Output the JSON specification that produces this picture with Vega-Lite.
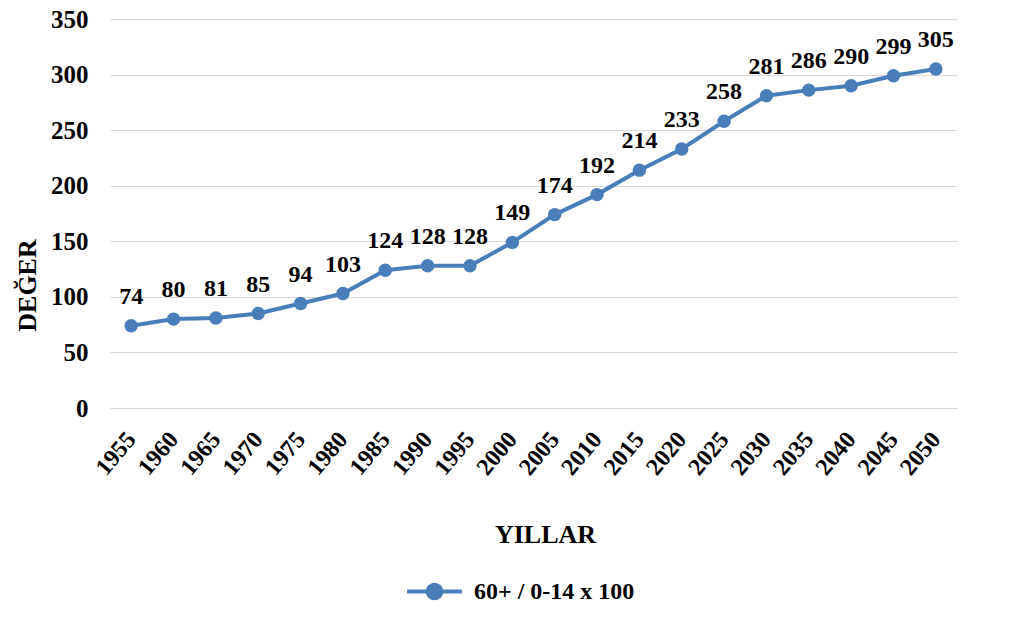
{
  "$schema": "https://vega.github.io/schema/vega-lite/v6.json",
  "width": 847,
  "height": 389,
  "autosize": {"type": "none"},
  "padding": {"left": 110, "top": 19, "right": 59, "bottom": 224},
  "background": "white",
  "config": {
    "view": {"stroke": null},
    "font": "Liberation Serif"
  },
  "data": {
    "values": [
      {"year": "1955", "value": 74, "series": "60+ / 0-14 x 100"},
      {"year": "1960", "value": 80, "series": "60+ / 0-14 x 100"},
      {"year": "1965", "value": 81, "series": "60+ / 0-14 x 100"},
      {"year": "1970", "value": 85, "series": "60+ / 0-14 x 100"},
      {"year": "1975", "value": 94, "series": "60+ / 0-14 x 100"},
      {"year": "1980", "value": 103, "series": "60+ / 0-14 x 100"},
      {"year": "1985", "value": 124, "series": "60+ / 0-14 x 100"},
      {"year": "1990", "value": 128, "series": "60+ / 0-14 x 100"},
      {"year": "1995", "value": 128, "series": "60+ / 0-14 x 100"},
      {"year": "2000", "value": 149, "series": "60+ / 0-14 x 100"},
      {"year": "2005", "value": 174, "series": "60+ / 0-14 x 100"},
      {"year": "2010", "value": 192, "series": "60+ / 0-14 x 100"},
      {"year": "2015", "value": 214, "series": "60+ / 0-14 x 100"},
      {"year": "2020", "value": 233, "series": "60+ / 0-14 x 100"},
      {"year": "2025", "value": 258, "series": "60+ / 0-14 x 100"},
      {"year": "2030", "value": 281, "series": "60+ / 0-14 x 100"},
      {"year": "2035", "value": 286, "series": "60+ / 0-14 x 100"},
      {"year": "2040", "value": 290, "series": "60+ / 0-14 x 100"},
      {"year": "2045", "value": 299, "series": "60+ / 0-14 x 100"},
      {"year": "2050", "value": 305, "series": "60+ / 0-14 x 100"}
    ]
  },
  "encoding": {
    "x": {
      "field": "year",
      "type": "ordinal",
      "scale": {"type": "point", "padding": 0.5},
      "axis": {
        "title": "YILLAR",
        "titleFont": "Liberation Serif",
        "titleFontSize": 26,
        "titleFontWeight": "bold",
        "titleColor": "black",
        "titleX": 435,
        "titleY": 126,
        "titleAlign": "center",
        "titleBaseline": "middle",
        "labelAngle": -50,
        "labelAlign": "right",
        "labelBaseline": "middle",
        "labelFont": "Liberation Serif",
        "labelFontSize": 24,
        "labelFontWeight": "bold",
        "labelColor": "black",
        "labelPadding": 27,
        "ticks": false,
        "domain": false,
        "grid": false
      }
    },
    "y": {
      "field": "value",
      "type": "quantitative",
      "scale": {"domain": [0, 350], "nice": false},
      "axis": {
        "title": "DEĞER",
        "titleFont": "Liberation Serif",
        "titleFontSize": 26,
        "titleFontWeight": "bold",
        "titleColor": "black",
        "titleX": -83,
        "titleY": 266,
        "titleAlign": "center",
        "titleBaseline": "middle",
        "values": [0, 50, 100, 150, 200, 250, 300, 350],
        "labelFont": "Liberation Serif",
        "labelFontSize": 25,
        "labelFontWeight": "bold",
        "labelColor": "black",
        "labelPadding": 22,
        "ticks": false,
        "domain": false,
        "grid": true,
        "gridColor": "#d9d9d9",
        "gridWidth": 1
      }
    }
  },
  "layer": [
    {
      "mark": {
        "type": "line",
        "strokeWidth": 4,
        "point": {"size": 180, "filled": true, "opacity": 1}
      },
      "encoding": {
        "color": {
          "field": "series",
          "type": "nominal",
          "scale": {"range": ["#4a7ebb"]},
          "legend": {
            "title": null,
            "orient": "none",
            "legendX": 295,
            "legendY": 543,
            "labelFont": "Liberation Serif",
            "labelFontSize": 24,
            "labelFontWeight": "bold",
            "labelColor": "black",
            "labelOffset": 10,
            "labelLimit": 400,
            "symbolType": "M-1,0L1,0M0.25,0A0.25,0.25,0,1,1,-0.25,0A0.25,0.25,0,1,1,0.25,0Z",
            "symbolSize": 3000,
            "symbolStrokeWidth": 4,
            "symbolFillColor": "#4a7ebb",
            "symbolStrokeColor": "#4a7ebb"
          }
        }
      }
    },
    {
      "mark": {
        "type": "text",
        "font": "Liberation Serif",
        "fontSize": 24,
        "fontWeight": "bold",
        "color": "black",
        "baseline": "bottom",
        "dy": -17
      },
      "encoding": {
        "text": {"field": "value", "type": "quantitative"}
      }
    }
  ]
}
